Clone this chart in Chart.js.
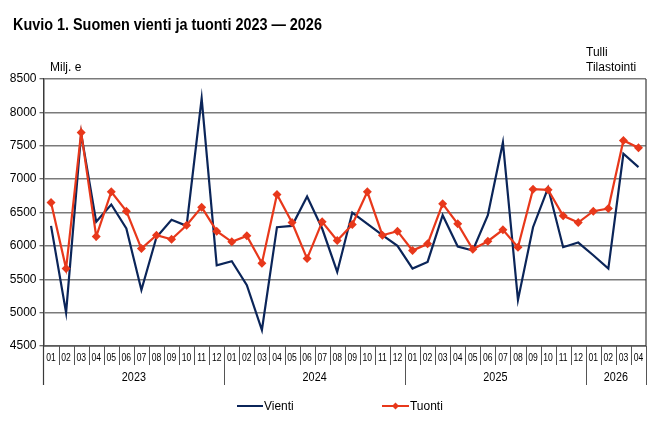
<!DOCTYPE html>
<html>
<head>
<meta charset="utf-8">
<script src="https://cdn.jsdelivr.net/npm/chart.js@4"></script>
<style>
  body { margin: 0; background: #fff; }
  #wrap { position: relative; width: 661px; height: 431px; font-family: "Liberation Sans", Arial, sans-serif; }
  #wrap canvas { position: absolute; left: 0; top: 0; }
  .lbl { position: absolute; color: #000; white-space: nowrap; }
  #title { left: 13px; top: 16px; font: bold 16px "Liberation Sans", Arial, sans-serif; transform: scaleX(0.9); transform-origin: 0 0; }
  #unit { left: 50px; top: 60px; font-size: 12px; }
  #src { left: 586px; top: 45px; font-size: 12px; line-height: 15px; }
</style>
</head>
<body>
<div id="wrap">
  <canvas id="c" width="661" height="431"></canvas>
  <div class="lbl" id="title">Kuvio 1. Suomen vienti ja tuonti 2023 — 2026</div>
  <div class="lbl" id="unit">Milj. e</div>
  <div class="lbl" id="src">Tulli<br>Tilastointi</div>
</div>
<script>
// month labels along x axis
const months = [
  "01","02","03","04","05","06","07","08","09","10","11","12",
  "01","02","03","04","05","06","07","08","09","10","11","12",
  "01","02","03","04","05","06","07","08","09","10","11","12",
  "01","02","03","04"
];
// year groups: label + number of months
const years = ["2023", "2024", "2025", "2026"];
const yearMonths = [12, 12, 12, 4];

// Vienti (exports), milj. e
const vienti = [
  6300, 5000, 7680, 6360, 6620, 6260, 5340, 6130, 6390, 6300, 8210, 5710,
  5770, 5410, 4740, 6280, 6300, 6740, 6260, 5610, 6500, 6330, 6160, 6000,
  5660, 5760, 6460, 5990, 5930, 6460, 7550, 5190, 6280, 6870, 5980, 6050,
  5860, 5660, 7380, 7180
];
// Tuonti (imports), milj. e
const tuonti = [
  6650, 5660, 7700, 6140, 6810, 6520, 5960, 6160, 6100, 6310, 6580, 6220,
  6060, 6150, 5740, 6770, 6350, 5810, 6360, 6080, 6320, 6810, 6160, 6220,
  5930, 6030, 6630, 6330, 5950, 6070, 6240, 5980, 6850, 6840, 6450, 6350,
  6520, 6560, 7580, 7470
];

const NAVY = "#0b2559";
const RED = "#e8381b";
const FONT = '"Liberation Sans", Arial, sans-serif';

// text squeezed horizontally, the source uses a narrow face
function narrowText(ctx, s, x, y, sx) {
  ctx.save();
  ctx.translate(x, y);
  ctx.scale(sx, 1);
  ctx.fillText(s, 0, 0);
  ctx.restore();
}

// grouped category axis, frame and legend
const frame = {
  id: "frame",
  afterDraw(chart) {
    const { ctx, chartArea: a, scales: { x } } = chart;
    const step = (a.right - a.left) / months.length;
    ctx.save();
    ctx.strokeStyle = "#3a3a3a";
    ctx.lineWidth = 1.2;
    // right frame, bottom axis, left axis extended through the rows
    ctx.beginPath();
    ctx.moveTo(a.right, a.top); ctx.lineTo(a.right, a.bottom);
    ctx.moveTo(a.left, a.bottom); ctx.lineTo(a.right, a.bottom);
    ctx.moveTo(a.left, a.bottom); ctx.lineTo(a.left, a.bottom + 39);
    ctx.stroke();

    // month cells
    ctx.strokeStyle = "#555";
    ctx.lineWidth = 1;
    ctx.fillStyle = "#000";
    ctx.font = "11px " + FONT;
    ctx.textAlign = "center";
    ctx.textBaseline = "middle";
    months.forEach((m, i) => {
      const cx = x.getPixelForValue(i);
      narrowText(ctx, m, cx, a.bottom + 12, 0.78);
      if (i === 0) return;
      const bx = Math.round(cx - step / 2) + 0.5;
      ctx.beginPath();
      ctx.moveTo(bx, a.bottom);
      ctx.lineTo(bx, a.bottom + (m === "01" ? 39 : 19));
      ctx.stroke();
    });
    const ex = Math.round(a.right) + 0.5;
    ctx.beginPath(); ctx.moveTo(ex, a.bottom); ctx.lineTo(ex, a.bottom + 39); ctx.stroke();

    // years
    ctx.font = "12px " + FONT;
    let start = 0;
    years.forEach((y, k) => {
      const x0 = x.getPixelForValue(start) - step / 2;
      const x1 = x.getPixelForValue(start + yearMonths[k] - 1) + step / 2;
      narrowText(ctx, y, (x0 + x1) / 2, a.bottom + 32, 0.9);
      start += yearMonths[k];
    });

    // legend
    const ly = 406;
    ctx.textAlign = "left";
    ctx.font = "13px " + FONT;
    ctx.lineWidth = 2;
    ctx.strokeStyle = NAVY;
    ctx.beginPath(); ctx.moveTo(237, ly); ctx.lineTo(263, ly); ctx.stroke();
    narrowText(ctx, "Vienti", 264, ly, 0.92);
    ctx.strokeStyle = RED;
    ctx.beginPath(); ctx.moveTo(382, ly); ctx.lineTo(409, ly); ctx.stroke();
    ctx.fillStyle = RED;
    ctx.beginPath();
    ctx.moveTo(395.5, ly - 3.5); ctx.lineTo(399, ly); ctx.lineTo(395.5, ly + 3.5); ctx.lineTo(392, ly);
    ctx.closePath(); ctx.fill();
    ctx.fillStyle = "#000";
    narrowText(ctx, "Tuonti", 410, ly, 0.92);
    ctx.restore();
  }
};

new Chart(document.getElementById("c"), {
  type: "line",
  data: {
    labels: months,
    datasets: [
      {
        label: "Vienti",
        data: vienti,
        borderColor: NAVY,
        backgroundColor: NAVY,
        borderWidth: 2.2,
        pointRadius: 0,
        tension: 0,
        order: 2,
      },
      {
        label: "Tuonti",
        data: tuonti,
        borderColor: RED,
        backgroundColor: RED,
        borderWidth: 2.2,
        pointStyle: "rectRot",
        pointRadius: 4.5,
        pointBorderWidth: 0,
        tension: 0,
        order: 1,
      }
    ]
  },
  options: {
    responsive: false,
    animation: false,
    layout: { padding: { left: 0, right: 15, top: 79, bottom: 85 } },
    plugins: { legend: { display: false }, tooltip: { enabled: false } },
    scales: {
      x: {
        display: false,
        offset: true,
      },
      y: {
        min: 4500,
        max: 8500,
        afterFit(scale) { scale.width = 43.5; },
        ticks: {
          stepSize: 500,
          color: "#000",
          padding: 3,
          font: { family: "Liberation Sans", size: 12 },
          callback: v => String(v),
        },
        grid: {
          color: "#7a7a7a",
          lineWidth: 1.5,
          tickLength: 4,
          tickColor: "#3a3a3a",
          tickWidth: 1,
        },
        border: { display: true, color: "#3a3a3a", width: 1.5 },
      }
    }
  },
  plugins: [frame],
});
</script>
</body>
</html>
